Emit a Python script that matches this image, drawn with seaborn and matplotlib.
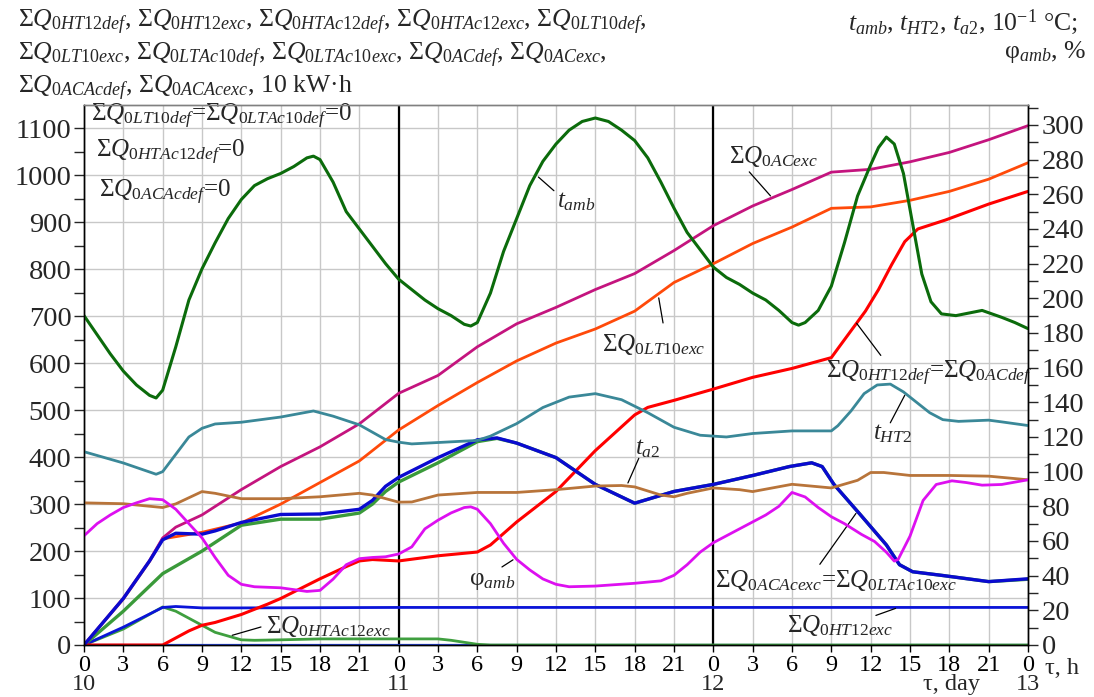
import numpy as np
import pandas as pd
import matplotlib
matplotlib.use("Agg")
import matplotlib.pyplot as plt
import seaborn as sns

# ---------------- data (time in hours from day 10, 0 h) ----------------
# Cumulative energies, left axis (units of 10 kW·h)
h_ac_exc = [0, 3, 5, 6, 7, 9, 12, 15, 18, 21, 24, 27, 30, 33, 36, 39, 42, 45, 48,
            51, 54, 57, 60, 63, 66, 69, 72]
q_ac_exc = [0, 100, 180, 228, 251, 277, 331, 380, 422, 471, 536, 574, 635, 684, 719,
            757, 791, 840, 893, 935, 970, 1007, 1013, 1029, 1049, 1076, 1106]

h_lt10_exc = [0, 3, 5, 6, 9, 12, 15, 18, 21, 24, 27, 30, 33, 36, 39, 42, 45, 48,
              51, 54, 57, 60, 63, 66, 69, 72]
q_lt10_exc = [0, 98, 178, 226, 240, 260, 300, 346, 392, 458, 510, 559, 605, 643,
              673, 711, 772, 812, 855, 890, 930, 933, 947, 966, 992, 1027]

h_ht12_def = [0, 6, 7, 8, 9, 10, 12, 14, 15, 18, 20, 21, 22, 24, 27, 30, 31, 33, 36,
              39, 42, 43, 45, 48, 51, 54, 57, 57.6, 58.6, 59.6, 60.6, 61.6, 62.6, 63.6,
              65.7, 69, 72]
q_ht12_def = [0, 0, 15, 30, 42, 48, 65, 87, 99, 141, 167, 179, 182, 179, 190, 198,
              213, 262, 327, 414, 490, 506, 521, 545, 570, 589, 612, 635, 673, 711,
              757, 810, 859, 886, 905, 939, 966]

h_acac_exc = [0, 3, 5, 6, 7, 9, 10, 12, 15, 18, 21, 22, 23, 24, 27, 30, 31.5, 33, 36,
              39, 42, 45, 48, 51, 53.8, 55.5, 56.3, 57.2, 59.2, 61.2, 62.2, 63.2, 65.5,
              69, 72]
q_acac_exc = [0, 99, 179, 224, 238, 236, 243, 261, 278, 279, 289, 308, 338, 357, 399,
              437, 441, 430, 399, 342, 302, 327, 342, 361, 380, 388, 380, 342, 278,
              213, 171, 156, 148, 135, 141]

h_ltac10_exc = [0, 3, 6, 9, 12, 15, 18, 21, 22, 23, 24, 27, 30, 31.5, 33, 36, 39, 42,
                45, 48, 51, 53.8, 55.5, 56.3, 57.2, 59.2, 61.2, 62.2, 63.2, 65.5, 69, 72]
q_ltac10_exc = [0, 72, 152, 200, 255, 268, 268, 281, 300, 327, 347, 388, 433, 440,
                430, 399, 342, 302, 327, 342, 361, 380, 388, 380, 342, 278, 213, 171,
                156, 148, 135, 140]

h_ht12_exc = [0, 3, 6, 7, 9, 12, 24, 36, 48, 60, 72]
q_ht12_exc = [0, 38, 80, 82, 79, 79, 80, 80, 80, 80, 80]

h_htac12_exc = [0, 3, 6, 7, 9, 10, 12, 13, 15, 18, 24, 27, 28, 30, 31, 72]
q_htac12_exc = [0, 34, 81, 72, 42, 27, 11, 10, 11, 13, 13, 13, 10, 1.5, 0, 0]

h_zero = [0, 72]
q_zero = [0, 0]

# Temperatures (10^-1 °C) and humidity (%), right axis
h_t_amb = [0, 1, 2, 3, 4, 5, 5.5, 6, 7, 8, 9, 10, 11, 12, 13, 14, 15, 16, 17, 17.5, 18,
           19, 20, 21, 22, 23, 24, 25, 26, 27, 28, 29, 29.5, 30, 31, 32, 33, 34, 35, 36,
           37, 38, 39, 40, 41, 42, 43, 44, 45, 46, 47, 48, 49, 50, 51, 52, 53, 54, 54.5,
           55, 56, 57, 58, 59, 60, 60.6, 61.2, 61.8, 62.5, 63.2, 63.9, 64.6, 65.4, 66.5,
           68.5, 70, 71, 72]
t_amb = [190, 179, 168, 158, 150, 144, 142.5, 147, 172, 199, 217, 232, 246, 257, 265,
         269, 272, 276, 281, 282, 280, 267, 250, 240, 230, 220, 211, 205, 199, 194, 190,
         185, 184, 186, 203, 227, 246, 265, 279, 289, 297, 302, 304, 302, 297, 291, 281,
         267, 252, 238, 228, 218, 212, 208, 203, 199, 193, 186, 184.5, 186, 193, 207,
         232, 259, 277, 287, 293, 289, 272, 243, 214, 198, 191, 190,
         193, 189, 186, 182.5]

h_t_ht2 = [0, 3, 5.5, 6, 7, 8, 9, 10, 12, 15, 17.5, 19, 21, 23, 24, 25, 27, 30, 31, 33,
           35, 37, 39, 41, 43, 45, 47, 48, 49, 51, 54, 57, 57.5, 58.5, 59.5, 60.5,
           61.5, 62.5, 63.5, 64.5, 65.5, 66.7, 69, 70, 72]
t_ht2 = [111.5, 105, 98.5, 100, 110, 120, 125, 127.5, 128.5, 131.5, 135, 132, 127,
         118.5, 117, 116, 116.8, 118, 120.5, 127.7, 137, 143, 145, 141.5, 134, 125.6,
         121, 120.5, 120, 122, 123.5, 123.5, 126.5, 135, 145, 150, 150.5, 146, 140, 134,
         130, 129, 129.7, 128.7, 126.6]

h_t_a2 = [0, 3, 6, 7, 9, 10, 12, 15, 18, 21, 22, 24, 25, 27, 30, 33, 36, 39, 41, 42,
          44, 45, 46, 48, 50, 51, 54, 57, 59, 60, 61, 63, 66, 69, 72]
t_a2 = [82, 81.5, 79.3, 81.4, 88.5, 87.5, 84.4, 84.4, 85.5, 87.5, 86.5, 82.4, 82.5,
        86.5, 88, 88, 89.6, 91.7, 92, 91.2, 86.5, 85.5, 87.5, 90.6, 89.6, 88.5, 92.7,
        90.6, 95, 99.5, 99.5, 97.8, 97.8, 97.4, 95.3]

h_phi = [0, 1, 2, 3, 4, 5, 6, 7, 8, 9, 10, 11, 12, 13, 15, 17, 18, 19, 20, 21, 22, 23,
         24, 25, 26, 27, 28, 29, 29.5, 30, 31, 32, 33, 34, 35, 36, 37, 39, 42, 44, 45,
         46, 47, 48, 50, 52, 53, 54, 55, 56, 57, 58, 59.3, 60.3, 61.2, 61.8, 62.1, 63.0,
         64.0, 65.0, 66.2, 67.3, 68.5, 70, 72]
phi_amb = [63, 70, 75, 79.3, 82, 84.4, 83.8, 78.3, 70, 61.8, 50.5, 40.2, 35, 33.6, 33,
           30.9, 31.5, 38, 46.3, 49.8, 50.5, 50.9, 52.5, 56.6, 67, 72, 76.2, 79.3, 79.7,
           78.3, 70, 58.7, 49.4, 43.3, 38.1, 35, 33.6, 34, 35.6, 37, 40.2, 46.3, 53.6,
           59, 67, 75, 80, 88, 85.4, 79.3, 74, 70, 63.8, 59.7, 53.5, 48.4, 49.4, 62.8,
           83.4, 92.6, 94.7, 93.7, 92.2, 92.6, 95.3]

hour_labels = [str(v % 24) for v in range(0, 73, 3)]
day_labels = ["10", "11", "12", "13"]

# ---------------- style ----------------
sns.set_style("ticks")
plt.rcParams["font.family"] = ["Liberation Serif", "DejaVu Serif"]
plt.rcParams["mathtext.fontset"] = "custom"
plt.rcParams["mathtext.rm"] = "Liberation Serif"
plt.rcParams["mathtext.it"] = "Liberation Serif:italic"
plt.rcParams["mathtext.bf"] = "Liberation Serif:bold"

W, H = 1094, 697
fig = plt.figure(figsize=(W / 100, H / 100), dpi=100)
x0, x1, y_top, y_bot = 84, 1028, 105, 645
ax = fig.add_axes([x0 / W, 1 - y_bot / H, (x1 - x0) / W, (y_bot - y_top) / H])
ax2 = ax.twinx()

LMAX, RMAX = 1150, 311.5
ax.set_xlim(0, 72)
ax.set_ylim(0, LMAX)
ax2.set_ylim(0, RMAX)

FS = 18          # in-plot notes
FS_HEAD = 18.5   # headings
FS_X = 17.5      # hour / day labels
FS_Y = 20.5      # value axes


def line(a, hx, vy, color, lw=2.0, z=2):
    df = pd.DataFrame({"h": hx, "v": vy})
    sns.lineplot(data=df, x="h", y="v", ax=a, color=color, lw=lw,
                 estimator=None, sort=False, zorder=z, legend=False)


# grid
ax.set_xticks(np.arange(0, 73, 3))
ax.set_yticks(np.arange(0, 1101, 100))
ax.set_yticks(np.arange(50, 1150, 100), minor=True)
ax.grid(True, which="major", color="#c8c8c8", lw=1.0, zorder=0)
ax.set_axisbelow(True)
for d in (24, 48):
    ax.axvline(d, color="black", lw=1.6, zorder=1)

# left-axis series
for _ in range(4):
    line(ax, h_zero, q_zero, "#2b4cf0", lw=2.2, z=2)
line(ax, h_htac12_exc, q_htac12_exc, "#3f9f3f", lw=2.0)
line(ax, h_ht12_exc, q_ht12_exc, "#0a14d8", lw=2.0)
line(ax, h_ltac10_exc, q_ltac10_exc, "#3a9a3a", lw=2.4)
line(ax, h_ht12_def, q_ht12_def, "#ff0000", lw=2.2)
line(ax, h_lt10_exc, q_lt10_exc, "#ff4a0a", lw=2.0)
line(ax, h_ac_exc, q_ac_exc, "#c4147e", lw=2.0)
line(ax, h_acac_exc, q_acac_exc, "#0a0ad0", lw=2.4)

# right-axis series
line(ax2, h_t_amb, t_amb, "#0b6b0b", lw=2.2)
line(ax2, h_t_ht2, t_ht2, "#3a8898", lw=2.0)
line(ax2, h_t_a2, t_a2, "#b8743a", lw=2.0)
line(ax2, h_phi, phi_amb, "#dd10f0", lw=2.0)

# axes cosmetics
ax.set_xlabel("")
ax.set_ylabel("")
ax2.set_ylabel("")
ax.set_xticklabels(hour_labels)
ax.tick_params(axis="x", which="major", direction="out", length=5, width=1,
               labelsize=FS_X, pad=2, colors="black")
ax.tick_params(axis="y", which="major", direction="out", length=7, width=1,
               labelsize=FS_Y, pad=2)
ax.tick_params(axis="y", which="minor", direction="out", length=7, width=1)
ax2.set_yticks(np.arange(0, 301, 20))
ax2.set_yticks(np.arange(10, 311, 20), minor=True)
ax2.tick_params(axis="y", which="major", direction="out", length=7, width=1,
                labelsize=FS_Y, pad=3)
ax2.tick_params(axis="y", which="minor", direction="out", length=7, width=1)
for a in (ax, ax2):
    for s in a.spines.values():
        s.set_visible(True)
        s.set_color("black")
        s.set_linewidth(1.0)
ax2.spines["top"].set_color("#808080")
ax.spines["top"].set_color("#808080")

# day row under the hour labels
DAY_Y = -0.0935
for i, d in enumerate(day_labels):
    ax.text(24 * i, DAY_Y, d, transform=ax.get_xaxis_transform(), ha="center",
            va="bottom", fontsize=FS_X)
ax.text(66.2, DAY_Y, "τ, day", transform=ax.get_xaxis_transform(), ha="center",
        va="bottom", fontsize=FS_X)
ax.text(73.3, -0.024, "τ, h", transform=ax.get_xaxis_transform(), ha="left",
        va="top", fontsize=FS_X)

# headings
def ftext(px, py, s, ha="left", fs=FS_HEAD):
    fig.text(px / W, 1 - py / H, s, ha=ha, va="center", fontsize=fs)


ftext(18, 22, r"Σ$Q_{0HT12def}$, Σ$Q_{0HT12exc}$, Σ$Q_{0HTAc12def}$, "
              r"Σ$Q_{0HTAc12exc}$, Σ$Q_{0LT10def}$,")
ftext(18, 55, r"Σ$Q_{0LT10exc}$, Σ$Q_{0LTAc10def}$, Σ$Q_{0LTAc10exc}$, "
              r"Σ$Q_{0ACdef}$, Σ$Q_{0ACexc}$,")
ftext(18, 88, r"Σ$Q_{0ACAcdef}$, Σ$Q_{0ACAcexc}$, 10 kW·h")
ftext(1078, 22, r"$t_{amb}$, $t_{HT2}$, $t_{a2}$, 10$^{-1}$ °C;", ha="right")
ftext(1086, 52, r"φ$_{amb}$, %", ha="right")

# in-plot notes
R2L = LMAX / RMAX


def note(hx, lv, s):
    ax.text(hx, lv, s, ha="left", va="center", fontsize=FS, zorder=6)


def leader(p_curve, p_text):
    ax.annotate("", xy=p_curve, xytext=p_text,
                arrowprops=dict(arrowstyle="-", color="black", lw=0.9), zorder=6)


note(0.5, 1125, r"Σ$Q_{0LT10def}$=Σ$Q_{0LTAc10def}$=0")
note(0.95, 1049, r"Σ$Q_{0HTAc12def}$=0")
note(1.15, 963, r"Σ$Q_{0ACAcdef}$=0")

note(49.2, 1040, r"Σ$Q_{0ACexc}$")
leader((52.5, 952), (50.6, 1012))

note(39.5, 639, r"Σ$Q_{0LT10exc}$")
leader((43.8, 745), (44.2, 680))

note(36.1, 256 * R2L, r"$t_{amb}$")
leader((34.5, 271 * R2L), (36.0, 261 * R2L))

note(56.6, 578, r"Σ$Q_{0HT12def}$=Σ$Q_{0ACdef}$")
leader((58.8, 690), (60.9, 612))

note(60.2, 449, r"$t_{HT2}$")
leader((62.7, 145.5 * R2L), (61.4, 468))

note(42.0, 418, r"$t_{a2}$")
leader((41.4, 92 * R2L), (42.4, 403))

note(29.4, 137, r"φ$_{amb}$")
leader((32.9, 50 * R2L), (31.7, 163))

note(48.1, 137, r"Σ$Q_{0ACAcexc}$=Σ$Q_{0LTAc10exc}$")
leader((59.0, 285), (56.0, 167))

note(53.6, 42, r"Σ$Q_{0HT12exc}$")
leader((62.1, 80), (60.2, 61))

note(13.9, 40, r"Σ$Q_{0HTAc12exc}$")
leader((11.1, 19), (13.7, 40))

fig.savefig("out.png", dpi=100)
